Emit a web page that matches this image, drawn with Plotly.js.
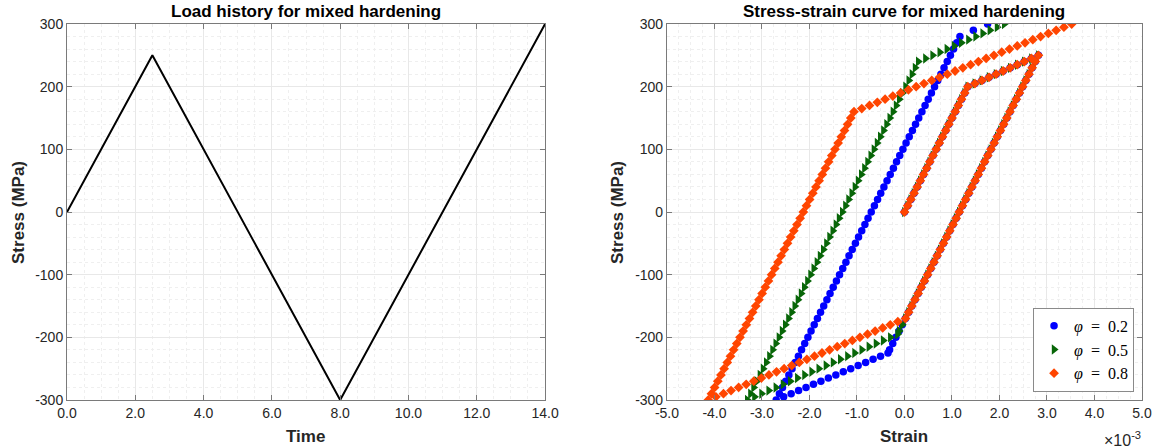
<!DOCTYPE html>
<html>
<head>
<meta charset="utf-8">
<script src="https://cdn.plot.ly/plotly-3.0.1.min.js"></script>
<style>html,body{margin:0;padding:0;background:#fff;}#chart{width:1161px;height:448px;}</style>
</head>
<body>
<div id="chart"></div>
<script>
// ---------- Left panel: load history ----------
const timeVals = [0, 2.5, 8, 14];
const loadVals = [0, 250, -300, 300];

// ---------- Right panel: stress-strain (strain in units of 1e-3) ----------
// shared initial loading
const initStress = [0,10,20,30,40,50,60,70,80,90,100,110,120,130,140,150,160,170,180,190,200,205,210,215,220,225,230,235,240,245,250];
const initStrain = [0,0.067,0.133,0.200,0.267,0.333,0.400,0.467,0.533,0.600,0.667,0.733,0.800,0.867,0.933,1.000,1.067,1.133,1.200,1.267,1.333,1.482,1.631,1.780,1.928,2.077,2.226,2.374,2.523,2.672,2.820];
// shared elastic unloading
const unloadStress = [240,230,220,210,200,190,180,170,160,150,140,130,120,110,100,90,80,70,60,50,40,30,20,10,0,-10,-20,-30,-40,-50,-60,-70,-80,-90,-100,-110,-120,-130,-140,-150,-160];
const unloadStrain = [2.753,2.687,2.620,2.553,2.487,2.420,2.353,2.287,2.220,2.153,2.087,2.020,1.953,1.887,1.820,1.753,1.687,1.620,1.553,1.487,1.420,1.353,1.287,1.220,1.153,1.087,1.020,0.953,0.887,0.820,0.753,0.687,0.620,0.553,0.487,0.420,0.353,0.287,0.220,0.153,0.087];

// phi = 0.2
const blueTailStress = [-170,-180,-190,-200,-210,-220,-225,-230,-235,-240,-245,-250,-255,-260,-265,-270,-275,-280,-285,-290,-295,-300,
 -290,-280,-270,-260,-250,-240,-230,-220,-210,-200,-190,-180,-170,-160,-150,-140,-130,-120,-110,-100,-90,-80,-70,-60,-50,-40,-30,-20,-10,0,
 10,20,30,40,50,60,70,80,90,100,110,120,130,140,150,160,170,180,190,200,210,220,230,240,250,260,270,280,290,300];
const blueTailStrain = [0.020,-0.047,-0.113,-0.180,-0.247,-0.313,-0.347,-0.504,-0.661,-0.818,-0.975,-1.132,-1.288,-1.445,-1.602,-1.759,-1.916,-2.073,-2.230,-2.386,-2.543,-2.700,
 -2.633,-2.567,-2.500,-2.433,-2.367,-2.300,-2.233,-2.167,-2.100,-2.033,-1.967,-1.900,-1.833,-1.767,-1.700,-1.633,-1.567,-1.500,-1.433,-1.367,-1.300,-1.233,-1.167,-1.100,-1.033,-0.967,-0.900,-0.833,-0.767,-0.700,
 -0.633,-0.567,-0.500,-0.433,-0.367,-0.300,-0.233,-0.167,-0.100,-0.033,0.033,0.100,0.167,0.233,0.300,0.367,0.433,0.500,0.567,0.633,0.700,0.767,0.833,0.900,0.967,1.033,1.100,1.167,1.450,1.750];

// phi = 0.5
const greenTailStress = [-170,-180,-190,-195,-200,-205,-210,-215,-220,-225,-230,-235,-240,-245,-250,-255,-260,-265,-270,-275,-280,-285,-290,-295,-300,
 -290,-280,-270,-260,-250,-240,-230,-220,-210,-200,-190,-180,-170,-160,-150,-140,-130,-120,-110,-100,-90,-80,-70,-60,-50,-40,-30,-20,-10,0,
 10,20,30,40,50,60,70,80,90,100,110,120,130,140,150,160,170,180,190,200,210,220,230,240,
 245,250,255,260,265,270,275,280,285,290,295,300];
const greenTailStrain = [0.020,-0.047,-0.113,-0.147,-0.298,-0.448,-0.599,-0.749,-0.900,-1.051,-1.201,-1.352,-1.503,-1.653,-1.804,-1.954,-2.105,-2.256,-2.406,-2.557,-2.707,-2.858,-3.009,-3.159,-3.310,
 -3.243,-3.177,-3.110,-3.043,-2.977,-2.910,-2.843,-2.777,-2.710,-2.643,-2.577,-2.510,-2.443,-2.377,-2.310,-2.243,-2.177,-2.110,-2.043,-1.977,-1.910,-1.843,-1.777,-1.710,-1.643,-1.577,-1.510,-1.443,-1.377,-1.310,
 -1.243,-1.177,-1.110,-1.043,-0.977,-0.910,-0.843,-0.777,-0.710,-0.643,-0.577,-0.510,-0.443,-0.377,-0.310,-0.243,-0.177,-0.110,-0.043,0.023,0.090,0.157,0.223,0.290,
 0.441,0.592,0.742,0.893,1.044,1.195,1.346,1.497,1.647,1.798,1.949,2.100];

// phi = 0.8
const orangeTailStress = [-170,-175,-180,-185,-190,-195,-200,-205,-210,-215,-220,-225,-230,-235,-240,-245,-250,-255,-260,-265,-270,-275,-280,-285,-290,-295,-300,
 -290,-280,-270,-260,-250,-240,-230,-220,-210,-200,-190,-180,-170,-160,-150,-140,-130,-120,-110,-100,-90,-80,-70,-60,-50,-40,-30,-20,-10,0,
 10,20,30,40,50,60,70,80,90,100,110,120,130,140,150,160,
 165,170,175,180,185,190,195,200,205,210,215,220,225,230,235,240,245,250,255,260,265,270,275,280,285,290,295,300];
const orangeTailStrain = [0.020,-0.140,-0.299,-0.459,-0.618,-0.778,-0.938,-1.097,-1.257,-1.416,-1.576,-1.736,-1.895,-2.055,-2.214,-2.374,-2.534,-2.693,-2.853,-3.012,-3.172,-3.332,-3.491,-3.651,-3.810,-3.970,-4.130,
 -4.063,-3.997,-3.930,-3.863,-3.797,-3.730,-3.663,-3.597,-3.530,-3.463,-3.397,-3.330,-3.263,-3.197,-3.130,-3.063,-2.997,-2.930,-2.863,-2.797,-2.730,-2.663,-2.597,-2.530,-2.463,-2.397,-2.330,-2.263,-2.197,-2.130,
 -2.063,-1.997,-1.930,-1.863,-1.797,-1.730,-1.663,-1.597,-1.530,-1.463,-1.397,-1.330,-1.263,-1.197,-1.130,-1.063,
 -0.899,-0.736,-0.572,-0.408,-0.245,-0.081,0.083,0.246,0.410,0.574,0.737,0.901,1.065,1.228,1.392,1.556,1.719,1.883,2.047,2.210,2.374,2.538,2.701,2.865,3.029,3.193,3.356,3.520];

const seriesNames = ['<i>φ</i>\u2002=\u20020.2', '<i>φ</i>\u2002=\u20020.5', '<i>φ</i>\u2002=\u20020.8'];
const seriesColors = ['#0000ff', '#086608', '#ff4500'];
const seriesSymbols = ['circle', 'triangle-right', 'diamond'];
const seriesSizes = [7.5, 9, 7.5];

// tick labels
const loadTimeTicks = [0, 2, 4, 6, 8, 10, 12, 14];
const loadTimeLabels = ['0.0','2.0','4.0','6.0','8.0','10.0','12.0','14.0'];
const stressTicks = [-300, -200, -100, 0, 100, 200, 300];
const stressLabels = ['-300','-200','-100','0','100','200','300'];
const strainTicks = [-5,-4,-3,-2,-1,0,1,2,3,4,5];
const strainLabels = ['-5.0','-4.0','-3.0','-2.0','-1.0','0.0','1.0','2.0','3.0','4.0','5.0'];

const tails = [
  [blueTailStrain, blueTailStress],
  [greenTailStrain, greenTailStress],
  [orangeTailStrain, orangeTailStress]
];

const traces = [{
  x: timeVals, y: loadVals, xaxis: 'x', yaxis: 'y',
  mode: 'lines', line: {color: '#000000', width: 2}, showlegend: false, hoverinfo: 'skip'
}];
tails.forEach((t, i) => {
  traces.push({
    x: initStrain.concat(unloadStrain, t[0]),
    y: initStress.concat(unloadStress, t[1]),
    xaxis: 'x2', yaxis: 'y2', mode: 'markers', name: seriesNames[i],
    marker: {color: seriesColors[i], symbol: seriesSymbols[i], size: seriesSizes[i], line: {width: 0}}
  });
});

const tickFont = {family: 'Liberation Sans, Arial, sans-serif', size: 14, color: '#262626'};
function axis(extra) {
  return Object.assign({
    showline: true, linecolor: '#7a7a7a', linewidth: 1, mirror: 'ticks',
    ticks: 'inside', ticklen: 5, tickcolor: '#7a7a7a', tickwidth: 1,
    showgrid: true, gridcolor: '#e8e8e8', gridwidth: 1,
    zeroline: false, tickfont: tickFont, tickmode: 'array', fixedrange: true
  }, extra);
}
const minorGrid = {showgrid: true, gridcolor: '#efefef', griddash: 'dot', ticks: ''};
const minorY = Object.assign({dtick: 20, tick0: 0}, minorGrid);

const titleFont = {family: 'Liberation Sans, Arial, sans-serif', size: 17, color: '#000000'};
const labelFont = {family: 'Liberation Sans, Arial, sans-serif', size: 17, color: '#262626'};

const layout = {
  width: 1161, height: 448,
  margin: {l: 67, r: 19, t: 24, b: 48},
  paper_bgcolor: '#ffffff', plot_bgcolor: '#ffffff',
  showlegend: true,
  xaxis: axis({domain: [0, 0.4447], range: [0, 14], tickvals: loadTimeTicks, ticktext: loadTimeLabels,
    minor: Object.assign({dtick: 0.5, tick0: 0}, minorGrid), anchor: 'y'}),
  yaxis: axis({domain: [0, 1], range: [-300, 300], tickvals: stressTicks, ticktext: stressLabels, minor: minorY, anchor: 'x'}),
  xaxis2: axis({domain: [0.5581, 1], range: [-5, 5], tickvals: strainTicks, ticktext: strainLabels,
    minor: Object.assign({dtick: 0.25, tick0: 0}, minorGrid), anchor: 'y2'}),
  yaxis2: axis({domain: [0, 1], range: [-300, 300], tickvals: stressTicks, ticktext: stressLabels, minor: minorY, anchor: 'x2'}),
  legend: {
    x: 0.9926, xanchor: 'right', y: 0.022, yanchor: 'bottom',
    bgcolor: '#ffffff', bordercolor: '#8a8a8a', borderwidth: 1,
    font: {family: 'Liberation Serif, DejaVu Serif, serif', size: 16, color: '#000000'},
    tracegroupgap: 0, itemwidth: 30
  },
  annotations: [
    {text: '<b>Load history for mixed hardening</b>', xref: 'paper', yref: 'paper', x: 0.2223, y: 1.032, xanchor: 'center', yanchor: 'middle', showarrow: false, font: titleFont},
    {text: '<b>Stress-strain curve for mixed hardening</b>', xref: 'paper', yref: 'paper', x: 0.779, y: 1.032, xanchor: 'center', yanchor: 'middle', showarrow: false, font: titleFont},
    {text: '<b>Time</b>', xref: 'paper', yref: 'paper', x: 0.2223, y: -0.098, xanchor: 'center', yanchor: 'middle', showarrow: false, font: labelFont},
    {text: '<b>Strain</b>', xref: 'paper', yref: 'paper', x: 0.779, y: -0.098, xanchor: 'center', yanchor: 'middle', showarrow: false, font: labelFont},
    {text: '<b>Stress (MPa)</b>', xref: 'paper', yref: 'paper', x: -0.0456, y: 0.5, xanchor: 'center', yanchor: 'middle', textangle: -90, showarrow: false, font: labelFont},
    {text: '<b>Stress (MPa)</b>', xref: 'paper', yref: 'paper', x: 0.5116, y: 0.5, xanchor: 'center', yanchor: 'middle', textangle: -90, showarrow: false, font: labelFont},
    {text: '×10<sup>-3</sup>', xref: 'paper', yref: 'paper', x: 0.982, y: -0.104, xanchor: 'center', yanchor: 'middle', showarrow: false,
     font: {family: 'Liberation Sans, Arial, sans-serif', size: 16, color: '#262626'}}
  ]
};

Plotly.newPlot('chart', traces, layout, {displayModeBar: false, staticPlot: true});
</script>
</body>
</html>
